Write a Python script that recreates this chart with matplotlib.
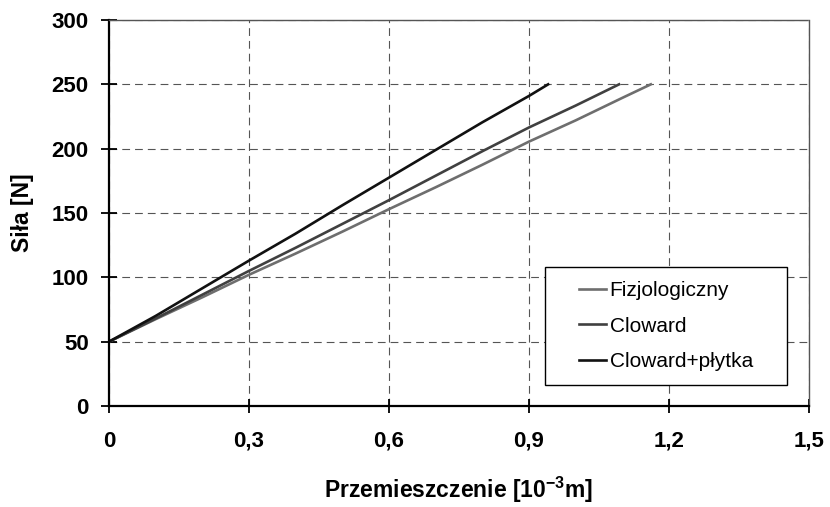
import matplotlib
matplotlib.use('Agg')
import matplotlib.pyplot as plt
from matplotlib.patches import Rectangle

plt.rcParams['font.family'] = ['Liberation Sans', 'DejaVu Sans']
plt.rcParams['mathtext.fontset'] = 'custom'
plt.rcParams['mathtext.rm'] = 'Liberation Sans'
plt.rcParams['mathtext.bf'] = 'Liberation Sans:bold'

x_fizj = [0, 0.1, 0.2, 0.3, 0.4, 0.5, 0.6, 0.7, 0.8, 0.9, 1.0, 1.1, 1.161]
y_fizj = [50, 67.5, 84.5, 102, 118.5, 135.5, 153, 170, 187.5, 205.5, 222, 239.5, 250]

x_clow = [0, 0.1, 0.2, 0.3, 0.4, 0.5, 0.6, 0.7, 0.8, 0.9, 1.0, 1.093]
y_clow = [50, 68, 86.5, 105, 123, 141.5, 160, 179, 198, 216.5, 233.5, 250]

x_plyt = [0, 0.1, 0.2, 0.3, 0.4, 0.5, 0.6, 0.7, 0.8, 0.9, 0.941]
y_plyt = [50, 70, 91.5, 113, 134, 156, 177.5, 199, 220.5, 241, 250]

labels = ['Fizjologiczny', 'Cloward', 'Cloward+płytka']
colors = ['#6e6e6e', '#404040', '#111111']

x_ticks = [0, 0.3, 0.6, 0.9, 1.2, 1.5]
x_ticklabels = ['0', '0,3', '0,6', '0,9', '1,2', '1,5']
y_ticks = [0, 50, 100, 150, 200, 250, 300]

fig = plt.figure(figsize=(8.3, 5.07), dpi=100)
ax = fig.add_axes([0.1313, 0.1992, 0.8434, 0.7613])

ax.plot(x_fizj, y_fizj, color=colors[0], lw=1.9, label=labels[0])
ax.plot(x_clow, y_clow, color=colors[1], lw=1.9, label=labels[1])
ax.plot(x_plyt, y_plyt, color=colors[2], lw=1.9, label=labels[2])

ax.set_xlim(0, 1.5)
ax.set_ylim(0, 300)
ax.set_xticks(x_ticks)
ax.set_xticklabels(x_ticklabels)
ax.set_yticks(y_ticks)
for lab in ax.get_xticklabels() + ax.get_yticklabels():
    lab.set_fontweight('bold')
    lab.set_fontsize(16)
ax.tick_params(axis='x', direction='inout', length=9.5, width=1.3, colors='black', pad=13)
ax.tick_params(axis='y', direction='inout', length=12, width=1.3, colors='black', pad=8.5)

ax.grid(True, color='#555555', linestyle=(0, (7, 4.5)), linewidth=0.8)
for s in ['top', 'right']:
    ax.spines[s].set_color('#555555')
    ax.spines[s].set_linestyle((0, (5, 1)))
    ax.spines[s].set_linewidth(1.0)
ax.spines['left'].set_linewidth(1.6)
ax.spines['bottom'].set_linewidth(1.6)

ax.set_xlabel('Przemieszczenie [10$^{\\mathbf{-3}}$m]', fontsize=16.5, fontweight='bold')
ax.set_ylabel('Siła [N]', fontsize=16.5, fontweight='bold')
ax.xaxis.set_label_coords(0.5, -0.178)
ax.yaxis.set_label_coords(-0.107, 0.5)

# ramka legendy rysowana osobno
ax.add_patch(Rectangle((0.623, 0.054), 0.346, 0.306, transform=ax.transAxes,
                       facecolor='white', edgecolor='black', linewidth=1.0, zorder=4))
leg = ax.legend(loc='center', bbox_to_anchor=(0.796, 0.207), fontsize=15, frameon=False,
                handlelength=1.25, handletextpad=0.2, labelspacing=0.8, borderpad=0)
leg.set_zorder(5)

fig.savefig('out.png', dpi=100)
